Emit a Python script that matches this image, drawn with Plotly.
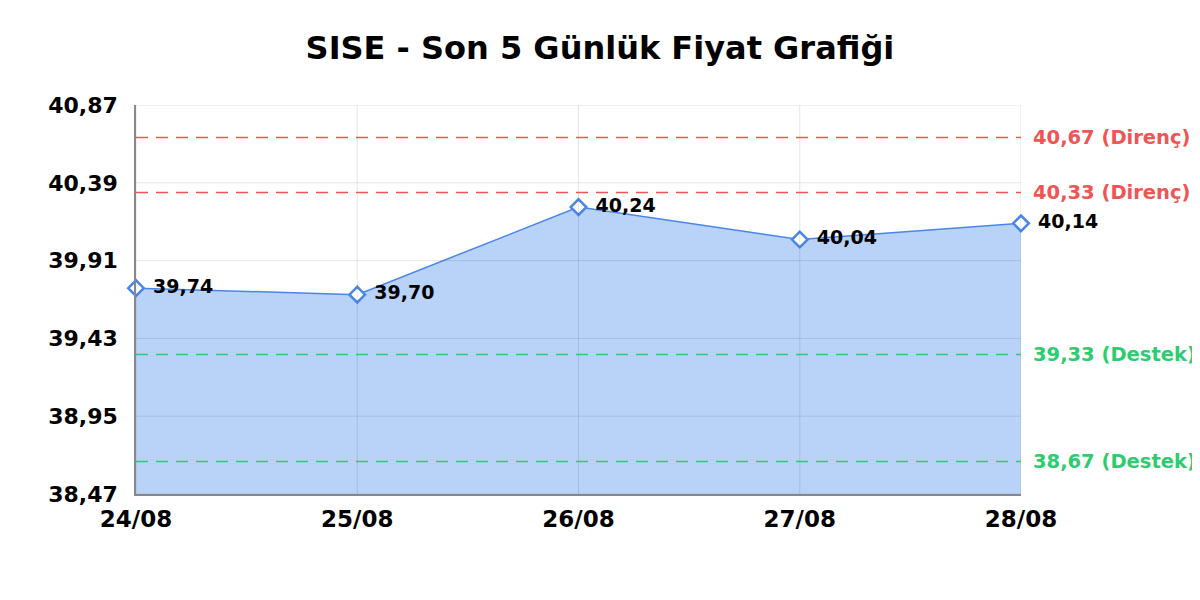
import plotly.graph_objects as go

# veriler
dates = ['24/08', '25/08', '26/08', '27/08', '28/08']
prices = [39.74, 39.70, 40.24, 40.04, 40.14]
resistance = [40.67, 40.33]
support = [39.33, 38.67]
y_ticks = [38.47, 38.95, 39.43, 39.91, 40.39, 40.87]

font = 'DejaVu Sans'
blue = '#4a86e8'
red = '#ee5555'
green = '#2ecc71'
grid = 'rgba(0,0,0,0.1)'

fig = go.Figure()

fig.add_trace(go.Scatter(
    x=dates, y=prices,
    mode='lines+markers+text',
    fill='tozeroy',
    fillcolor='rgba(160,195,245,0.75)',
    line=dict(color=blue, width=1.5),
    marker=dict(symbol='diamond', size=12, color='white',
                line=dict(color=blue, width=2.5)),
    text=[' \u200a' + f'{p:.2f}'.replace('.', ',') for p in prices],
    textposition='middle right',
    textfont=dict(family=font, size=19, color='black', weight='bold'),
    cliponaxis=False,
    hoverinfo='skip'))

shapes = []
annotations = []

# izgara çizgileri dolgunun üstünde kalsın
for t in y_ticks:
    shapes.append(dict(type='line', xref='paper', x0=0, x1=1, yref='y', y0=t, y1=t,
                       layer='above', line=dict(color=grid, width=1)))
for d in dates:
    shapes.append(dict(type='line', xref='x', x0=d, x1=d, yref='paper', y0=0, y1=1,
                       layer='above', line=dict(color=grid, width=1)))

for lvl in resistance:
    shapes.append(dict(type='line', xref='paper', x0=0, x1=1, yref='y', y0=lvl, y1=lvl,
                       line=dict(color=red, width=1.5, dash='12px,8px')))
    annotations.append(dict(x=1, xref='paper', xshift=10, y=lvl, yref='y',
                            text=f'{lvl:.2f} (Direnç)'.replace('.', ','),
                            showarrow=False, xanchor='left',
                            font=dict(family=font, size=19.5, color=red, weight='bold')))
for lvl in support:
    shapes.append(dict(type='line', xref='paper', x0=0, x1=1, yref='y', y0=lvl, y1=lvl,
                       line=dict(color=green, width=1.5, dash='12px,8px')))
    annotations.append(dict(x=1, xref='paper', xshift=10, y=lvl, yref='y',
                            text=f'{lvl:.2f} (Destek)'.replace('.', ','),
                            showarrow=False, xanchor='left',
                            font=dict(family=font, size=19.5, color=green, weight='bold')))

fig.update_layout(
    width=1200, height=600,
    title=dict(text='SISE - Son 5 Günlük Fiyat Grafiği', x=0.4933, xanchor='center',
               y=0.933, yanchor='middle',
               font=dict(family=font, size=32, color='black', weight='bold')),
    separators=',.',
    showlegend=False,
    plot_bgcolor='white', paper_bgcolor='white',
    margin=dict(l=128, r=187, t=97, b=114),
    shapes=shapes,
    annotations=annotations,
    xaxis=dict(range=[0, 4], showgrid=False, zeroline=False,
               showline=True, linecolor='#888', linewidth=1.5,
               tickfont=dict(family=font, size=23, color='black', weight='bold'),
               ticks='', ticklabelstandoff=4),
    yaxis=dict(range=[38.47, 40.87], tickvals=y_ticks, tickformat='.2f',
               showgrid=False, zeroline=False,
               showline=True, linecolor='#888', linewidth=1.5,
               tickfont=dict(family=font, size=22, color='black', weight='bold'),
               ticks='', ticklabelstandoff=12))

fig.write_html('out.html')
